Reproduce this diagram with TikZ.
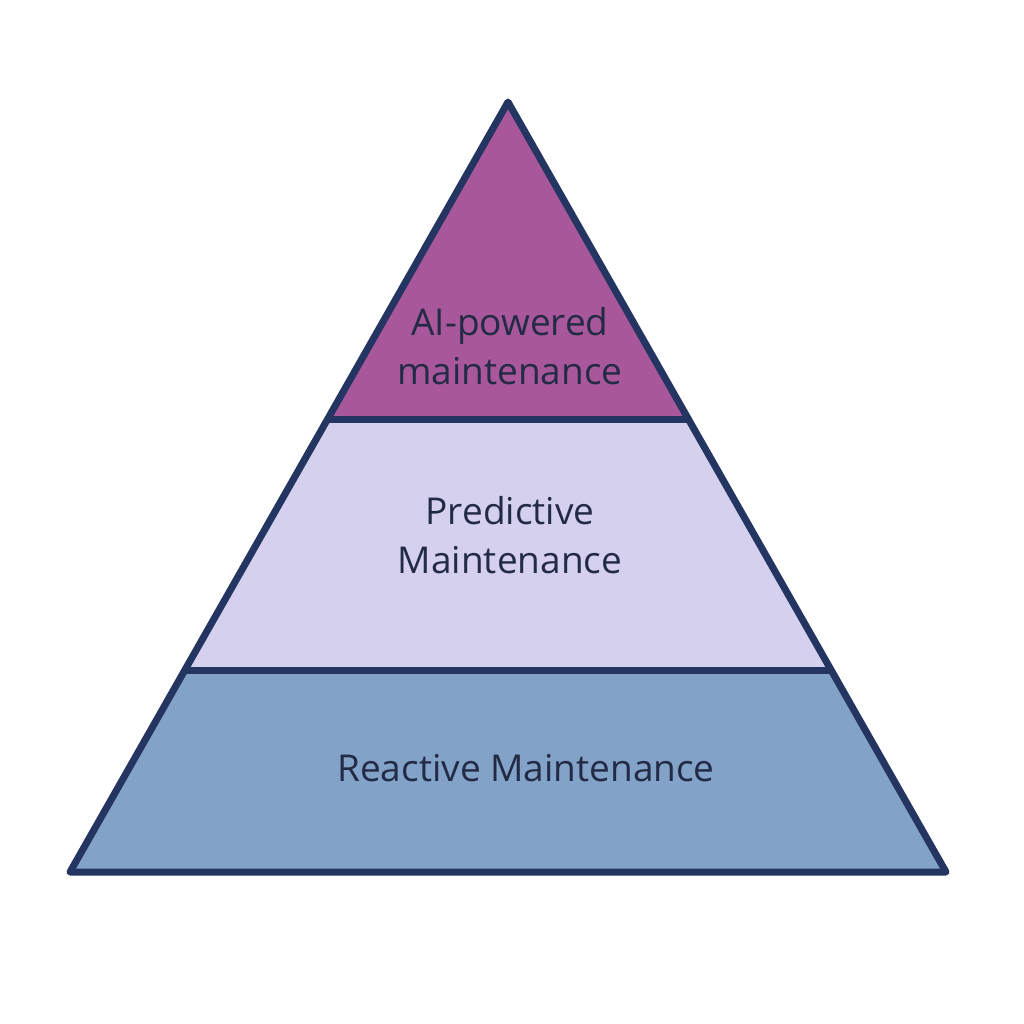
\documentclass[tikz,border=0pt]{standalone}
\usepackage{fontspec}
\setmainfont{Open Sans}
\usetikzlibrary{calc}
\definecolor{edge}{HTML}{233560}
\definecolor{topc}{HTML}{A8589A}
\definecolor{midc}{HTML}{D4D0EE}
\definecolor{botc}{HTML}{82A2C8}
\definecolor{txt}{HTML}{232A45}
\begin{document}
\begin{tikzpicture}[x=1pt,y=-1pt,
  tier/.style={draw=edge,line width=7pt,line join=round},
  lbl/.style={text=txt,font=\fontsize{37}{49}\selectfont,align=center}]
\useasboundingbox (0,0) rectangle (1024,1024);
\coordinate (apex) at (508,102);
\coordinate (bl) at (70,872);
\coordinate (br) at (946,872);
\coordinate (l1) at ($(apex)!0.4117!(bl)$);
\coordinate (r1) at ($(apex)!0.4117!(br)$);
\coordinate (l2) at ($(apex)!0.7377!(bl)$);
\coordinate (r2) at ($(apex)!0.7377!(br)$);
\fill[botc] (l2) -- (r2) -- (br) -- (bl) -- cycle;
\fill[midc] (l1) -- (r1) -- (r2) -- (l2) -- cycle;
\fill[topc] (apex) -- (r1) -- (l1) -- cycle;
\draw[tier] (l1) -- (r1);
\draw[tier] (l2) -- (r2);
\draw[tier] (apex) -- (br) -- (bl) -- cycle;
\node[lbl] (top) at (510,346) {AI-powered\\maintenance};
\node[lbl] (mid) at (510,535) {Predictive\\Maintenance};
\node[lbl] (bot) at (526,768) {Reactive Maintenance};
\end{tikzpicture}
\end{document}
